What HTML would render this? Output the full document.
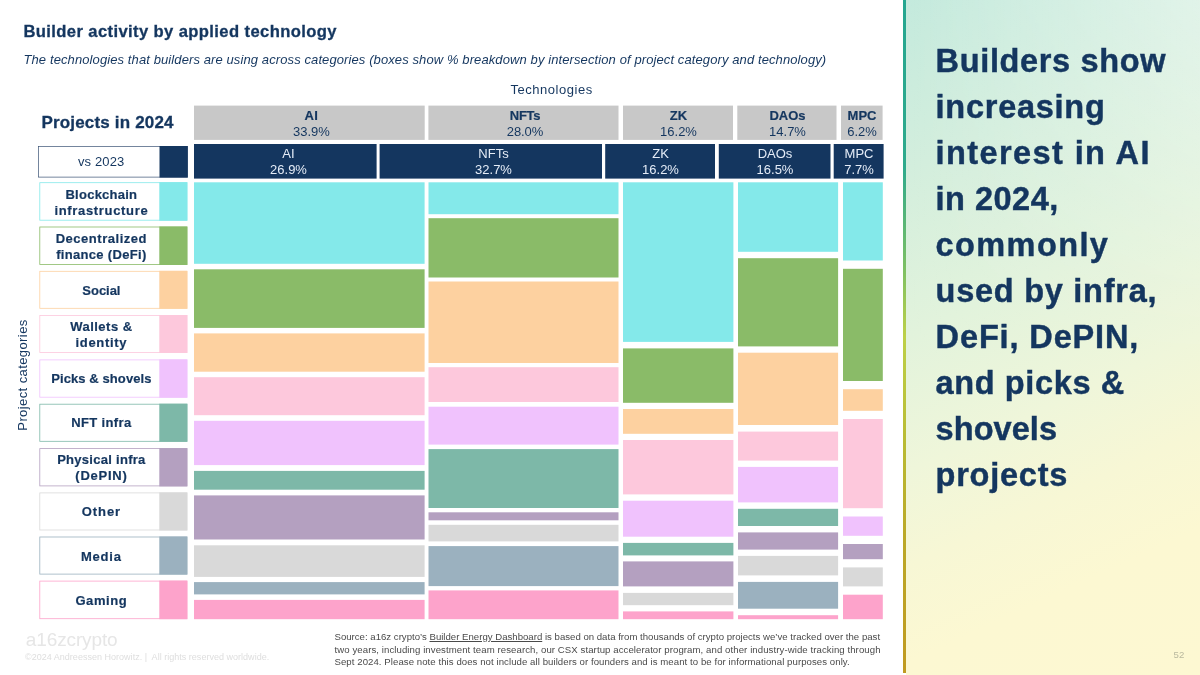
<!DOCTYPE html>
<html lang="en"><head><meta charset="utf-8"><title>Builder activity by applied technology</title>
<style>
html,body{margin:0;padding:0;background:#fff;}
body{width:1200px;height:675px;position:relative;overflow:hidden;font-family:"Liberation Sans",sans-serif;color:#14365F;}
.t{position:absolute;white-space:nowrap;line-height:1;}
.c{transform:translateX(-50%);}
.b{font-weight:bold;}
.h{-webkit-text-stroke:0.45px #14365F;}
.s3{-webkit-text-stroke:0.3px #14365F;}
.s2{-webkit-text-stroke:0.2px #14365F;}
.i{font-style:italic;}
svg{position:absolute;left:0;top:0;}
#panel{position:absolute;left:906px;top:0;width:294px;height:675px;background:linear-gradient(155.3deg,#C4EADD 0%,#D3EEDD 21%,#E2F3DC 41.6%,#EFF6DA 58.3%,#F7F7D5 70%,#FCF8D2 82%,#FDF8D2 100%);}
#panel::after{content:"";position:absolute;left:0;top:0;width:294px;height:675px;background:linear-gradient(to right,rgba(255,255,255,0),rgba(255,255,255,0.36));-webkit-mask-image:linear-gradient(to bottom,#000 0%,rgba(0,0,0,.55) 25%,transparent 55%);mask-image:linear-gradient(to bottom,#000 0%,rgba(0,0,0,.55) 25%,transparent 55%);}
#bar{position:absolute;left:903px;top:0;width:3px;height:673px;background:linear-gradient(180deg,#25A690 0%,#2FAA8C 25%,#7DC063 40%,#BDD048 50%,#B9BC34 65%,#BBA828 80%,#C09A20 100%);}
</style></head><body>
<div id="panel"></div><div id="bar"></div>
<svg width="1200" height="675" viewBox="0 0 1200 675" shape-rendering="auto">
<rect x="194.00" y="182.30" width="230.60" height="81.50" fill="#84E9EA"/>
<rect x="194.00" y="269.30" width="230.60" height="58.60" fill="#8ABB68"/>
<rect x="194.00" y="333.40" width="230.60" height="38.30" fill="#FDD1A0"/>
<rect x="194.00" y="377.20" width="230.60" height="38.00" fill="#FDC8DC"/>
<rect x="194.00" y="420.80" width="230.60" height="44.30" fill="#F0C2FD"/>
<rect x="194.00" y="470.90" width="230.60" height="18.80" fill="#7DB8A8"/>
<rect x="194.00" y="495.40" width="230.60" height="44.10" fill="#B4A0C0"/>
<rect x="194.00" y="545.30" width="230.60" height="31.60" fill="#D9D9D9"/>
<rect x="194.00" y="582.10" width="230.60" height="12.30" fill="#9BB1BF"/>
<rect x="194.00" y="599.90" width="230.60" height="19.30" fill="#FDA3CB"/>
<rect x="428.50" y="182.30" width="190.00" height="31.90" fill="#84E9EA"/>
<rect x="428.50" y="218.20" width="190.00" height="59.30" fill="#8ABB68"/>
<rect x="428.50" y="281.50" width="190.00" height="81.50" fill="#FDD1A0"/>
<rect x="428.50" y="367.20" width="190.00" height="34.80" fill="#FDC8DC"/>
<rect x="428.50" y="406.70" width="190.00" height="37.90" fill="#F0C2FD"/>
<rect x="428.50" y="449.10" width="190.00" height="58.90" fill="#7DB8A8"/>
<rect x="428.50" y="512.30" width="190.00" height="8.00" fill="#B4A0C0"/>
<rect x="428.50" y="524.80" width="190.00" height="16.60" fill="#D9D9D9"/>
<rect x="428.50" y="546.10" width="190.00" height="40.00" fill="#9BB1BF"/>
<rect x="428.50" y="590.40" width="190.00" height="28.80" fill="#FDA3CB"/>
<rect x="623.00" y="182.30" width="110.40" height="159.60" fill="#84E9EA"/>
<rect x="623.00" y="348.40" width="110.40" height="54.40" fill="#8ABB68"/>
<rect x="623.00" y="409.00" width="110.40" height="24.80" fill="#FDD1A0"/>
<rect x="623.00" y="440.00" width="110.40" height="54.40" fill="#FDC8DC"/>
<rect x="623.00" y="500.70" width="110.40" height="36.00" fill="#F0C2FD"/>
<rect x="623.00" y="542.90" width="110.40" height="12.50" fill="#7DB8A8"/>
<rect x="623.00" y="561.40" width="110.40" height="25.00" fill="#B4A0C0"/>
<rect x="623.00" y="592.90" width="110.40" height="12.30" fill="#D9D9D9"/>
<rect x="623.00" y="611.40" width="110.40" height="7.80" fill="#FDA3CB"/>
<rect x="738.00" y="182.30" width="100.10" height="69.50" fill="#84E9EA"/>
<rect x="738.00" y="258.20" width="100.10" height="88.20" fill="#8ABB68"/>
<rect x="738.00" y="352.70" width="100.10" height="72.30" fill="#FDD1A0"/>
<rect x="738.00" y="431.60" width="100.10" height="29.00" fill="#FDC8DC"/>
<rect x="738.00" y="466.90" width="100.10" height="35.50" fill="#F0C2FD"/>
<rect x="738.00" y="508.80" width="100.10" height="17.20" fill="#7DB8A8"/>
<rect x="738.00" y="532.40" width="100.10" height="17.20" fill="#B4A0C0"/>
<rect x="738.00" y="555.90" width="100.10" height="19.50" fill="#D9D9D9"/>
<rect x="738.00" y="581.90" width="100.10" height="26.80" fill="#9BB1BF"/>
<rect x="738.00" y="615.20" width="100.10" height="4.00" fill="#FDA3CB"/>
<rect x="843.00" y="182.30" width="39.80" height="78.20" fill="#84E9EA"/>
<rect x="843.00" y="268.80" width="39.80" height="112.20" fill="#8ABB68"/>
<rect x="843.00" y="389.20" width="39.80" height="21.60" fill="#FDD1A0"/>
<rect x="843.00" y="419.00" width="39.80" height="89.20" fill="#FDC8DC"/>
<rect x="843.00" y="516.50" width="39.80" height="19.30" fill="#F0C2FD"/>
<rect x="843.00" y="544.00" width="39.80" height="15.20" fill="#B4A0C0"/>
<rect x="843.00" y="567.40" width="39.80" height="19.00" fill="#D9D9D9"/>
<rect x="843.00" y="594.70" width="39.80" height="24.50" fill="#FDA3CB"/>
<rect x="194.00" y="105.60" width="230.70" height="34.30" fill="#C8C8C8"/>
<rect x="428.40" y="105.60" width="190.10" height="34.30" fill="#C8C8C8"/>
<rect x="623.00" y="105.60" width="110.00" height="34.30" fill="#C8C8C8"/>
<rect x="737.30" y="105.60" width="99.20" height="34.30" fill="#C8C8C8"/>
<rect x="841.00" y="105.60" width="41.60" height="34.30" fill="#C8C8C8"/>
<rect x="194.00" y="144.00" width="182.60" height="34.60" fill="#14365F"/>
<rect x="379.60" y="144.00" width="222.40" height="34.60" fill="#14365F"/>
<rect x="605.20" y="144.00" width="109.80" height="34.60" fill="#14365F"/>
<rect x="718.80" y="144.00" width="111.70" height="34.60" fill="#14365F"/>
<rect x="833.70" y="144.00" width="49.90" height="34.60" fill="#14365F"/>
<rect x="39.80" y="182.70" width="147.10" height="37.50" fill="#fff" stroke="#84E9EA" stroke-width="0.8"/>
<rect x="159.30" y="182.20" width="28.10" height="38.50" fill="#84E9EA"/>
<rect x="39.80" y="227.00" width="147.10" height="37.50" fill="#fff" stroke="#8ABB68" stroke-width="0.8"/>
<rect x="159.30" y="226.50" width="28.10" height="38.50" fill="#8ABB68"/>
<rect x="39.80" y="271.30" width="147.10" height="37.00" fill="#fff" stroke="#FDD1A0" stroke-width="0.8"/>
<rect x="159.30" y="270.80" width="28.10" height="38.00" fill="#FDD1A0"/>
<rect x="39.80" y="315.50" width="147.10" height="37.00" fill="#fff" stroke="#FDC8DC" stroke-width="0.8"/>
<rect x="159.30" y="315.00" width="28.10" height="38.00" fill="#FDC8DC"/>
<rect x="39.80" y="359.90" width="147.10" height="37.30" fill="#fff" stroke="#F0C2FD" stroke-width="0.8"/>
<rect x="159.30" y="359.40" width="28.10" height="38.30" fill="#F0C2FD"/>
<rect x="39.80" y="404.20" width="147.10" height="37.10" fill="#fff" stroke="#7DB8A8" stroke-width="0.8"/>
<rect x="159.30" y="403.70" width="28.10" height="38.10" fill="#7DB8A8"/>
<rect x="39.80" y="448.60" width="147.10" height="37.30" fill="#fff" stroke="#B4A0C0" stroke-width="0.8"/>
<rect x="159.30" y="448.10" width="28.10" height="38.30" fill="#B4A0C0"/>
<rect x="39.80" y="492.90" width="147.10" height="37.10" fill="#fff" stroke="#D9D9D9" stroke-width="0.8"/>
<rect x="159.30" y="492.40" width="28.10" height="38.10" fill="#D9D9D9"/>
<rect x="39.80" y="537.00" width="147.10" height="37.10" fill="#fff" stroke="#9BB1BF" stroke-width="0.8"/>
<rect x="159.30" y="536.50" width="28.10" height="38.10" fill="#9BB1BF"/>
<rect x="39.80" y="581.10" width="147.10" height="37.60" fill="#fff" stroke="#FDA3CB" stroke-width="0.8"/>
<rect x="159.30" y="580.60" width="28.10" height="38.60" fill="#FDA3CB"/>
<rect x="38.50" y="146.50" width="148.80" height="30.60" fill="#fff" stroke="#3A5274" stroke-width="0.7"/>
<rect x="159.50" y="146.00" width="28.30" height="31.60" fill="#14365F"/>
</svg>
<div id="title" class="t b s3" style="left:23.40px;top:24.35px;font-size:16.6px;letter-spacing:0.388px;">Builder activity by applied technology</div>
<div id="sub" class="t i" style="left:23.50px;top:52.50px;font-size:13px;letter-spacing:0.102px;">The technologies that builders are using across categories (boxes show % breakdown by intersection of project category and technology)</div>
<div id="tech" class="t  c" style="left:551.60px;top:83.00px;font-size:13px;letter-spacing:0.528px;">Technologies</div>
<div id="proj" class="t b s3" style="left:41.50px;top:113.61px;font-size:17px;letter-spacing:0.169px;">Projects in 2024</div>
<div id="vs" class="t  c" style="left:101.20px;top:155.30px;font-size:13px;letter-spacing:0.142px;">vs 2023</div>
<div id="hg0a" class="t b s2 c" style="left:311.40px;top:108.80px;font-size:13px;letter-spacing:0.400px;">AI</div>
<div id="hg0b" class="t  c" style="left:311.40px;top:125.00px;font-size:13px;letter-spacing:0.006px;">33.9%</div>
<div id="hg1a" class="t b s2 c" style="left:525.00px;top:108.80px;font-size:13px;letter-spacing:-0.282px;">NFTs</div>
<div id="hg1b" class="t  c" style="left:525.00px;top:125.00px;font-size:13px;letter-spacing:-0.119px;">28.0%</div>
<div id="hg2a" class="t b s2 c" style="left:678.50px;top:108.80px;font-size:13px;">ZK</div>
<div id="hg2b" class="t  c" style="left:678.50px;top:125.00px;font-size:13px;">16.2%</div>
<div id="hg3a" class="t b s2 c" style="left:787.50px;top:108.80px;font-size:13px;">DAOs</div>
<div id="hg3b" class="t  c" style="left:787.50px;top:125.00px;font-size:13px;">14.7%</div>
<div id="hg4a" class="t b s2 c" style="left:862.00px;top:108.80px;font-size:13px;">MPC</div>
<div id="hg4b" class="t  c" style="left:862.00px;top:125.00px;font-size:13px;">6.2%</div>
<div id="hn0a" class="t  c" style="left:288.50px;top:147.20px;font-size:13px;color:#E4ECF7;">AI</div>
<div id="hn0b" class="t  c" style="left:288.50px;top:163.30px;font-size:13px;color:#E4ECF7;">26.9%</div>
<div id="hn1a" class="t  c" style="left:493.50px;top:147.20px;font-size:13px;color:#E4ECF7;">NFTs</div>
<div id="hn1b" class="t  c" style="left:493.50px;top:163.30px;font-size:13px;color:#E4ECF7;">32.7%</div>
<div id="hn2a" class="t  c" style="left:660.50px;top:147.20px;font-size:13px;color:#E4ECF7;">ZK</div>
<div id="hn2b" class="t  c" style="left:660.50px;top:163.30px;font-size:13px;color:#E4ECF7;">16.2%</div>
<div id="hn3a" class="t  c" style="left:775.00px;top:147.20px;font-size:13px;color:#E4ECF7;">DAOs</div>
<div id="hn3b" class="t  c" style="left:775.00px;top:163.30px;font-size:13px;color:#E4ECF7;">16.5%</div>
<div id="hn4a" class="t  c" style="left:859.00px;top:147.20px;font-size:13px;color:#E4ECF7;">MPC</div>
<div id="hn4b" class="t  c" style="left:859.00px;top:163.30px;font-size:13px;color:#E4ECF7;">7.7%</div>
<div id="lg0a" class="t b s2 c" style="left:101.40px;top:188.00px;font-size:13px;letter-spacing:0.249px;">Blockchain</div>
<div id="lg0b" class="t b s2 c" style="left:101.40px;top:203.70px;font-size:13px;letter-spacing:0.667px;">infrastructure</div>
<div id="lg1a" class="t b s2 c" style="left:101.40px;top:231.90px;font-size:13px;letter-spacing:0.529px;">Decentralized</div>
<div id="lg1b" class="t b s2 c" style="left:101.40px;top:247.50px;font-size:13px;letter-spacing:0.325px;">finance (DeFi)</div>
<div id="lg2a" class="t b s2 c" style="left:101.40px;top:284.00px;font-size:13px;letter-spacing:-0.039px;">Social</div>
<div id="lg3a" class="t b s2 c" style="left:101.40px;top:319.90px;font-size:13px;letter-spacing:0.484px;">Wallets &amp;</div>
<div id="lg3b" class="t b s2 c" style="left:101.40px;top:335.50px;font-size:13px;letter-spacing:0.695px;">identity</div>
<div id="lg4a" class="t b s2 c" style="left:101.40px;top:372.00px;font-size:13px;letter-spacing:0.086px;">Picks &amp; shovels</div>
<div id="lg5a" class="t b s2 c" style="left:101.40px;top:416.00px;font-size:13px;letter-spacing:0.380px;">NFT infra</div>
<div id="lg6a" class="t b s2 c" style="left:101.40px;top:453.00px;font-size:13px;letter-spacing:0.281px;">Physical infra</div>
<div id="lg6b" class="t b s2 c" style="left:101.40px;top:468.70px;font-size:13px;letter-spacing:0.741px;">(DePIN)</div>
<div id="lg7a" class="t b s2 c" style="left:101.40px;top:505.00px;font-size:13px;letter-spacing:0.932px;">Other</div>
<div id="lg8a" class="t b s2 c" style="left:101.40px;top:549.50px;font-size:13px;letter-spacing:0.814px;">Media</div>
<div id="lg9a" class="t b s2 c" style="left:101.40px;top:594.00px;font-size:13px;letter-spacing:0.599px;">Gaming</div>
<div id="pc" class="t" style="left:22px;top:375px;font-size:13px;transform:translate(-50%,-50%) rotate(-90deg);letter-spacing:0.408px;">Project categories</div>
<div id="src0" class="t" style="left:334.50px;top:631.87px;font-size:9.6px;letter-spacing:0.010px;color:#4A4A4A;">Source: a16z crypto’s <u>Builder Energy Dashboard</u> is based on data from thousands of crypto projects we’ve tracked over the past</div>
<div id="src1" class="t" style="left:334.50px;top:644.52px;font-size:9.6px;letter-spacing:0.082px;color:#4A4A4A;">two years, including investment team research, our CSX startup accelerator program, and other industry-wide tracking through</div>
<div id="src2" class="t" style="left:334.50px;top:657.17px;font-size:9.6px;letter-spacing:0.068px;color:#4A4A4A;">Sept 2024. Please note this does not include all builders or founders and is meant to be for informational purposes only.</div>
<div id="logo" class="t" style="left:25.80px;top:629.62px;font-size:19px;letter-spacing:-0.117px;color:#E6E6E6;">a16zcrypto</div>
<div id="copy" class="t" style="left:25.00px;top:652.88px;font-size:9px;letter-spacing:0.019px;color:#DEDEDE;">©2024 Andreessen Horowitz. |&nbsp; All rights reserved worldwide.</div>
<div id="h0" class="t b h" style="left:935.60px;top:45.39px;font-size:32.5px;letter-spacing:0.648px;">Builders show</div>
<div id="h1" class="t b h" style="left:935.60px;top:91.36px;font-size:32.5px;letter-spacing:0.736px;">increasing</div>
<div id="h2" class="t b h" style="left:935.60px;top:137.33px;font-size:32.5px;letter-spacing:1.405px;">interest in AI</div>
<div id="h3" class="t b h" style="left:935.60px;top:183.30px;font-size:32.5px;letter-spacing:0.493px;">in 2024,</div>
<div id="h4" class="t b h" style="left:935.60px;top:229.27px;font-size:32.5px;letter-spacing:1.393px;">commonly</div>
<div id="h5" class="t b h" style="left:935.60px;top:275.24px;font-size:32.5px;letter-spacing:0.738px;">used by infra,</div>
<div id="h6" class="t b h" style="left:935.60px;top:321.21px;font-size:32.5px;letter-spacing:0.868px;">DeFi, DePIN,</div>
<div id="h7" class="t b h" style="left:935.60px;top:367.18px;font-size:32.5px;letter-spacing:0.618px;">and picks &amp;</div>
<div id="h8" class="t b h" style="left:935.60px;top:413.15px;font-size:32.5px;letter-spacing:0.059px;">shovels</div>
<div id="h9" class="t b h" style="left:935.60px;top:459.12px;font-size:32.5px;letter-spacing:0.752px;">projects</div>
<div id="pg" class="t" style="left:1173.60px;top:649.67px;font-size:9.6px;color:#B9B99F;">52</div>
</body></html>
